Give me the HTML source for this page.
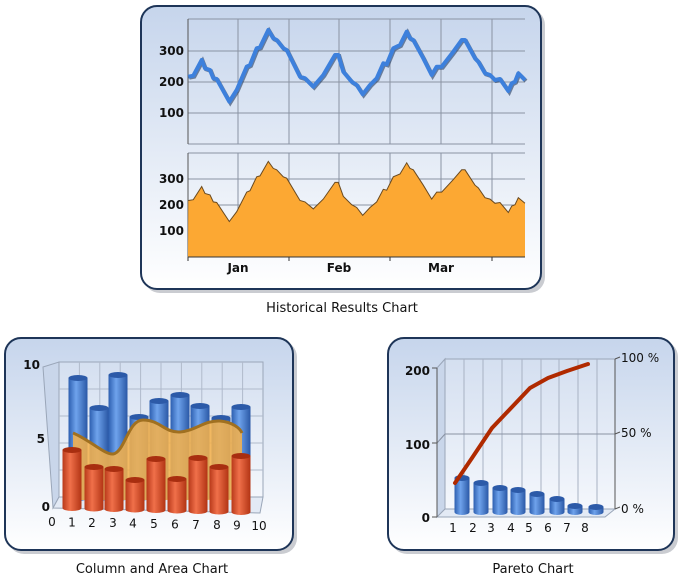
<!DOCTYPE html>
<html><head><meta charset="utf-8"><style>
html,body{margin:0;padding:0;background:#fff;width:686px;height:584px;overflow:hidden}
svg{display:block;font-family:"DejaVu Sans","Liberation Sans",sans-serif}
</style></head><body>
<svg id="s" width="686" height="584" viewBox="0 0 686 584" xmlns="http://www.w3.org/2000/svg">
<defs>
<linearGradient id="pg" x1="0" y1="0" x2="0" y2="1"><stop offset="0" stop-color="#c6d5ec"/><stop offset="1" stop-color="#ffffff"/></linearGradient>
<linearGradient id="bc" x1="0" y1="0" x2="1" y2="0"><stop offset="0" stop-color="#2d5fb0"/><stop offset="0.4" stop-color="#6fa3ec"/><stop offset="1" stop-color="#2a58a6"/></linearGradient>
<linearGradient id="oc" x1="0" y1="0" x2="1" y2="0"><stop offset="0" stop-color="#b8391a"/><stop offset="0.4" stop-color="#f0704a"/><stop offset="1" stop-color="#b23414"/></linearGradient>
<linearGradient id="wall" x1="0" y1="0" x2="0" y2="1"><stop offset="0" stop-color="#d4dff0"/><stop offset="1" stop-color="#f4f7fc"/></linearGradient>
</defs>
<rect x="144" y="9" width="401" height="284" rx="16" fill="#8a8f98" opacity="0.45"/>
<rect x="141" y="6" width="400" height="283" rx="16" fill="url(#pg)" stroke="#1e3558" stroke-width="2"/>
<rect x="8" y="341" width="289" height="213" rx="16" fill="#8a8f98" opacity="0.45"/>
<rect x="5" y="338" width="288" height="212" rx="16" fill="url(#pg)" stroke="#1e3558" stroke-width="2"/>
<rect x="391" y="341" width="287" height="213" rx="16" fill="#8a8f98" opacity="0.45"/>
<rect x="388" y="338" width="286" height="212" rx="16" fill="url(#pg)" stroke="#1e3558" stroke-width="2"/>

<g id="topg" stroke="#8a93a3" stroke-width="1" fill="none"></g>
<g font-size="12" fill="#111" font-weight="bold" text-anchor="end">
<text x="184" y="55">300</text><text x="184" y="86">200</text><text x="184" y="117">100</text>
<text x="184" y="183">300</text><text x="184" y="209">200</text><text x="184" y="235">100</text>
</g>
<g font-size="12" fill="#111" font-weight="bold" text-anchor="middle">
<text x="238" y="272">Jan</text><text x="339" y="272">Feb</text><text x="441" y="272">Mar</text>
</g>
<g font-size="13" fill="#111" text-anchor="middle">
<text x="342" y="312">Historical Results Chart</text>
<text x="152" y="573">Column and Area Chart</text>
<text x="533" y="573">Pareto Chart</text>
</g>
<g id="ca"></g>
<g id="pa"></g>
</svg>
<script>
(function(){
var NS="http://www.w3.org/2000/svg";
function el(p,t,a,txt){var e=document.createElementNS(NS,t);for(var k in a)e.setAttribute(k,a[k]);if(txt!=null)e.textContent=txt;p.appendChild(e);return e;}
var topG=document.getElementById('topg');
[19,51,82,113,144].forEach(function(y){el(topG,'line',{x1:188,x2:525,y1:y,y2:y});});
[153,179,205,231].forEach(function(y){el(topG,'line',{x1:188,x2:525,y1:y,y2:y});});
[238,289,339,390,441,492].forEach(function(x){el(topG,'line',{x1:x,x2:x,y1:19,y2:144});el(topG,'line',{x1:x,x2:x,y1:153,y2:257});});
el(topG,'line',{x1:188,x2:188,y1:19,y2:144,stroke:'#555'});
el(topG,'line',{x1:188,x2:188,y1:153,y2:257,stroke:'#555'});
var pts=[[145,215],[160,212],[185,165],[195,190],[210,195],[220,220],[230,222],[268,290],[290,255],[320,185],[330,180],[350,130],[360,127],[385,75],[400,100],[410,105],[430,130],[440,135],[480,215],[495,220],[520,245],[550,210],[585,150],[595,150],[610,200],[635,230],[650,240],[668,268],[690,240],[710,220],[730,175],[740,178],[760,130],[780,120],[800,80],[810,100],[820,105],[850,160],[875,210],[890,185],[905,185],[940,140],[965,105],[975,105],[1005,160],[1015,170],[1035,205],[1050,210],[1065,225],[1080,222],[1105,258],[1115,235],[1125,230],[1135,205],[1145,215],[1155,225]];
var lp=[],ap=[];
pts.forEach(function(p){var x=140+p[0]/3,y=5+p[1]/3,v=(144-y)/31*100;lp.push(x.toFixed(1)+','+y.toFixed(1));ap.push(x.toFixed(1)+','+(257-v*0.26).toFixed(1));});
var svg=document.getElementById('s');
el(svg,'polygon',{points:'188,257 '+ap.join(' ')+' 525,257',fill:'#fca833'});
el(svg,'polyline',{points:ap.join(' '),fill:'none',stroke:'#6a4a20','stroke-width':1});
el(svg,'polyline',{points:lp.join(' '),fill:'none',stroke:'#223a60','stroke-width':4,transform:'translate(1,1)',opacity:0.6});
el(svg,'polyline',{points:lp.join(' '),fill:'none',stroke:'#3d80dc','stroke-width':4,'stroke-linejoin':'round'});
el(svg,'line',{x1:188,x2:525,y1:257,y2:257,stroke:'#333'});
[188,289,390,492].forEach(function(x){el(svg,'line',{x1:x,x2:x,y1:257,y2:261,stroke:'#333'});});

var ca=document.getElementById('ca');
el(ca,'polygon',{points:'59,362 263,362 263,497 59,497',fill:'url(#wall)',stroke:'#9aa6b8'});
el(ca,'polygon',{points:'43,367 59,362 59,497 53,508',fill:'#c9d6ea',stroke:'#9aa6b8'});
el(ca,'polygon',{points:'53,508 59,497 263,497 260,513',fill:'#e3eaf5',stroke:'#9aa6b8'});
for(var i=1;i<10;i++){var x=59+i*20.4;el(ca,'line',{x1:x,x2:x,y1:362,y2:497,stroke:'#b0bacb'});}
[389,416,443,470].forEach(function(y){el(ca,'line',{x1:59,x2:263,y1:y,y2:y,stroke:'#b0bacb'});});
function cyl(g,cx,t,bot,w,fill,topc){el(g,'rect',{x:cx-w/2,y:t,width:w,height:bot-t,fill:fill});el(g,'ellipse',{cx:cx,cy:bot,rx:w/2,ry:3,fill:fill});el(g,'ellipse',{cx:cx,cy:t,rx:w/2,ry:3,fill:topc});}
var bx=[78,99,118,139,159,180,200,221,241],bt=[378,408,375,417,401,395,406,418,407];
bx.forEach(function(x,i){cyl(ca,x,bt[i],498,19,'url(#bc)','#2c5aa8');});
var ad='M73,433 C90,440 105,455 113,454 C125,452 128,420 143,420 C160,420 165,433 180,432 C195,431 205,420 220,421 C232,422 240,428 242,433';
el(ca,'path',{d:ad+' L242,500 L73,500 Z',fill:'#f2b04c',opacity:0.88});
el(ca,'path',{d:ad,fill:'none',stroke:'#a07020','stroke-width':3});
var ox=[72,94,114,135,156,177,198,219,241],ot=[450,467,469,480,459,479,458,467,456];
ox.forEach(function(x,i){cyl(ca,x,ot[i],508+i*0.5,19,'url(#oc)','#a82e10');});
var g=el(ca,'g',{'font-size':'12',fill:'#111'});
el(g,'text',{x:40,y:369,'text-anchor':'end','font-weight':'bold'},'10');
el(g,'text',{x:45,y:443,'text-anchor':'end','font-weight':'bold'},'5');
el(g,'text',{x:50,y:511,'text-anchor':'end','font-weight':'bold'},'0');
var xl=[52,72,92,113,133,154,175,196,217,237,259];
xl.forEach(function(x,i){el(g,'text',{x:x,y:526+i*0.4,'text-anchor':'middle'},String(i));});

var pa=document.getElementById('pa');
el(pa,'polygon',{points:'445,359 615,359 615,509 445,509',fill:'url(#wall)',stroke:'#9aa6b8'});
el(pa,'polygon',{points:'437,368 445,359 445,509 437,517',fill:'#c9d6ea',stroke:'#9aa6b8'});
el(pa,'polygon',{points:'437,517 445,509 615,509 605,517',fill:'#e3eaf5',stroke:'#9aa6b8'});
[464,483,502,522,541,559,578,597].forEach(function(x){el(pa,'line',{x1:x,x2:x,y1:359,y2:509,stroke:'#a8b2c3'});});
el(pa,'line',{x1:445,x2:615,y1:434,y2:434,stroke:'#8a93a3'});
el(pa,'line',{x1:437,x2:445,y1:443,y2:434,stroke:'#8a93a3'});
el(pa,'line',{x1:437,x2:437,y1:368,y2:517,stroke:'#555'});
el(pa,'line',{x1:615,x2:615,y1:359,y2:509,stroke:'#555'});
[[432,368],[432,443],[432,517]].forEach(function(p){el(pa,'line',{x1:p[0],x2:p[0]+5,y1:p[1],y2:p[1],stroke:'#555'});});
[[615,359],[615,434],[615,509]].forEach(function(p){el(pa,'line',{x1:p[0],x2:p[0]+5,y1:p[1],y2:p[1]-2,stroke:'#555'});});
var px=[462,481,500,518,537,557,575,596],pt=[478,483,488,490,494,499,506,507];
px.forEach(function(x,i){cyl(pa,x,pt[i],512,15,'url(#bc)','#2c5aa8');});
el(pa,'polyline',{points:'455,483 472,458 492,428 512,407 530,388 548,378 567,371 588,364',fill:'none',stroke:'#b02a00','stroke-width':4,'stroke-linejoin':'round','stroke-linecap':'round'});
var g2=el(pa,'g',{'font-size':'12',fill:'#111'});
el(g2,'text',{x:430,y:375,'text-anchor':'end','font-weight':'bold'},'200');
el(g2,'text',{x:430,y:449,'text-anchor':'end','font-weight':'bold'},'100');
el(g2,'text',{x:430,y:522,'text-anchor':'end','font-weight':'bold'},'0');
el(g2,'text',{x:621,y:362},'100 %');
el(g2,'text',{x:621,y:437},'50 %');
el(g2,'text',{x:621,y:513},'0 %');
[453,473,491,511,529,548,567,585].forEach(function(x,i){el(g2,'text',{x:x,y:532,'text-anchor':'middle'},String(i+1));});
})();
</script>
</body></html>
